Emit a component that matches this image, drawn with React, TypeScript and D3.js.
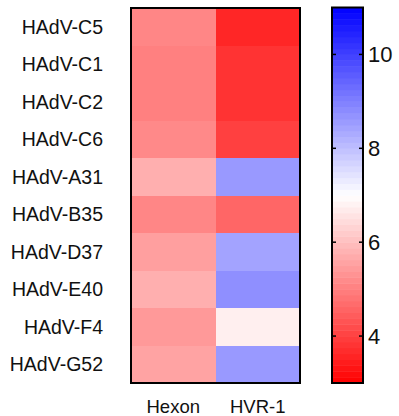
import * as d3 from "d3";
import { useRef, useEffect } from "react";

const strains = ["HAdV-C5", "HAdV-C1", "HAdV-C2", "HAdV-C6", "HAdV-A31", "HAdV-B35", "HAdV-D37", "HAdV-E40", "HAdV-F4", "HAdV-G52"];
const regions = ["Hexon", "HVR-1"];
const hexonValues = [5.1, 5.0, 5.0, 5.15, 5.75, 5.1, 5.5, 5.75, 5.4, 5.55];
const hvrValues = [3.6, 3.8, 3.8, 4.0, 8.6, 4.6, 8.45, 8.75, 6.75, 8.6];
const colorTicks = [4, 6, 8, 10];

export default function App() {
  const ref = useRef<SVGSVGElement>(null);
  const width = 399;
  const height = 416;

  useEffect(() => {
    const svg = d3.select(ref.current);
    svg.selectAll("*").remove();

    const font = "Liberation Sans, Arial, sans-serif";
    const color = d3.scaleLinear<string>()
      .domain([3, 7, 11])
      .range(["#ff0000", "#ffffff", "#0000ff"])
      .clamp(true);

    const x = d3.scaleBand().domain(regions).range([131, 300]);
    const y = d3.scaleBand().domain(strains).range([8, 383]);

    const cells = strains.flatMap((s, i) => [
      { strain: s, region: regions[0], value: hexonValues[i] },
      { strain: s, region: regions[1], value: hvrValues[i] },
    ]);

    const g = svg.append("g");
    g.selectAll("rect.cell")
      .data(cells)
      .join("rect")
      .attr("class", "cell")
      .attr("x", d => x(d.region)!)
      .attr("y", d => y(d.strain)!)
      .attr("width", x.bandwidth())
      .attr("height", y.bandwidth())
      .attr("fill", d => color(d.value))
      .attr("shape-rendering", "crispEdges");

    g.append("rect")
      .attr("x", 131).attr("y", 8)
      .attr("width", 169).attr("height", 375)
      .attr("fill", "none").attr("stroke", "#000").attr("stroke-width", 2);

    g.selectAll("text.row")
      .data(strains)
      .join("text")
      .attr("class", "row")
      .attr("x", 103)
      .attr("y", d => y(d)! + y.bandwidth() / 2)
      .attr("dy", "0.36em")
      .attr("text-anchor", "end")
      .attr("fill", "#111")
      .style("font-family", font)
      .style("font-size", "19.5px")
      .text(d => d);

    g.selectAll("text.col")
      .data(regions)
      .join("text")
      .attr("class", "col")
      .attr("x", d => x(d)! + x.bandwidth() / 2)
      .attr("y", 413)
      .attr("text-anchor", "middle")
      .attr("fill", "#111")
      .style("font-family", font)
      .style("font-size", "18.5px")
      .text(d => d);

    // colour bar
    const cy = d3.scaleLinear().domain([3, 11]).range([383, 7.5]);
    const barX = 332;
    const barW = 31;
    const steps = d3.range(3, 11, 0.125);
    g.selectAll("rect.step")
      .data(steps)
      .join("rect")
      .attr("class", "step")
      .attr("x", barX)
      .attr("y", d => cy(d + 0.125))
      .attr("width", barW)
      .attr("height", d => cy(d) - cy(d + 0.125) + 0.5)
      .attr("fill", d => color(d + 0.0625));

    g.append("rect")
      .attr("x", barX).attr("y", cy(11))
      .attr("width", barW).attr("height", cy(3) - cy(11))
      .attr("fill", "none").attr("stroke", "#000").attr("stroke-width", 2);

    const ticks = g.selectAll("g.tick").data(colorTicks).join("g").attr("class", "tick");
    ticks.append("line")
      .attr("x1", barX).attr("x2", barX + 4)
      .attr("y1", d => cy(d)).attr("y2", d => cy(d))
      .attr("stroke", "#000").attr("stroke-width", 1.5);
    ticks.append("line")
      .attr("x1", barX + barW - 4).attr("x2", barX + barW)
      .attr("y1", d => cy(d)).attr("y2", d => cy(d))
      .attr("stroke", "#000").attr("stroke-width", 1.5);
    ticks.append("text")
      .attr("x", 368)
      .attr("y", d => cy(d))
      .attr("dy", "0.36em")
      .attr("fill", "#111")
      .style("font-family", font)
      .style("font-size", "22px")
      .text(d => d);
  }, []);

  return (
    <svg ref={ref} width={width} height={height} style={{ position: "absolute", left: 0, top: 0 }}></svg>
  );
}
